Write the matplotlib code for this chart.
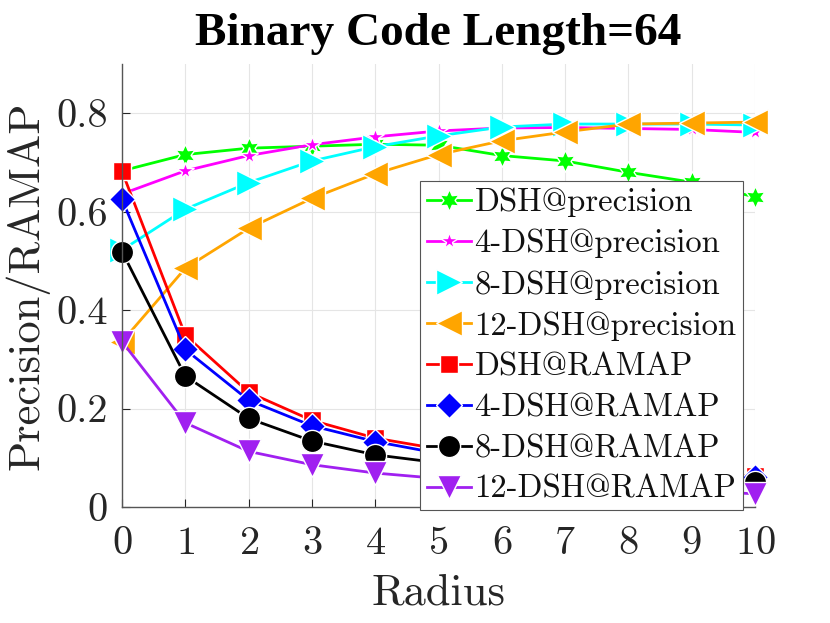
import matplotlib
matplotlib.use("Agg")
import matplotlib.pyplot as plt

radius = [0, 1, 2, 3, 4, 5, 6, 7, 8, 9, 10]
dsh_prec = [0.683, 0.716, 0.729, 0.733, 0.737, 0.735, 0.714, 0.703, 0.680, 0.660, 0.630]
dsh4_prec = [0.636, 0.683, 0.714, 0.736, 0.752, 0.764, 0.770, 0.771, 0.769, 0.767, 0.761]
dsh8_prec = [0.522, 0.605, 0.659, 0.703, 0.732, 0.754, 0.772, 0.778, 0.778, 0.778, 0.776]
dsh12_prec = [0.336, 0.485, 0.566, 0.627, 0.677, 0.716, 0.744, 0.762, 0.778, 0.780, 0.782]
dsh_ramap = [0.682, 0.349, 0.233, 0.176, 0.140, 0.118, 0.101, 0.089, 0.079, 0.069, 0.062]
dsh4_ramap = [0.625, 0.320, 0.217, 0.165, 0.133, 0.109, 0.094, 0.083, 0.074, 0.066, 0.060]
dsh8_ramap = [0.519, 0.266, 0.180, 0.134, 0.106, 0.090, 0.078, 0.069, 0.062, 0.056, 0.050]
dsh12_ramap = [0.336, 0.171, 0.113, 0.086, 0.069, 0.058, 0.049, 0.042, 0.037, 0.032, 0.027]

labels = ["DSH@precision", "4-DSH@precision", "8-DSH@precision", "12-DSH@precision",
          "DSH@RAMAP", "4-DSH@RAMAP", "8-DSH@RAMAP", "12-DSH@RAMAP"]
series = [dsh_prec, dsh4_prec, dsh8_prec, dsh12_prec,
          dsh_ramap, dsh4_ramap, dsh8_ramap, dsh12_ramap]
colors = ["#00ff00", "#ff00ff", "#00ffff", "#ffa500",
          "#ff0000", "#0000ff", "#000000", "#a020f0"]
markers = [(6, 1, 0), "*", ">", "<", "s", "D", "o", "v"]
msizes = [16, 13, 19, 19, 13, 13, 16, 17]

plt.rcParams['font.family'] = ['cmr10', 'DejaVu Sans']
plt.rcParams['axes.formatter.use_mathtext'] = True

fig = plt.figure(figsize=(8.3, 6.23), dpi=100)
ax = fig.add_axes([122/830, 1-507/623, (755-122)/830, (507-64)/623])

for y, lab, c, m, ms in zip(series, labels, colors, markers, msizes):
    ax.plot(radius, y, color=c, marker=m, markersize=ms, lw=2.0, label=lab,
            markeredgecolor='white', markeredgewidth=1.0, markerfacecolor=c,
            clip_on=False)

ax.set_xlim(0, 10)
ax.set_ylim(0, 0.9)
ax.set_xticks(range(0, 11))
ax.set_yticks([0, 0.2, 0.4, 0.6, 0.8])
ax.set_yticklabels(["0", "0.2", "0.4", "0.6", "0.8"])
ax.grid(True, color='#e5e5e5', lw=0.8)
ax.set_axisbelow(True)
for s in ['top', 'right']:
    ax.spines[s].set_visible(False)
for s in ['left', 'bottom']:
    ax.spines[s].set_color('#555555')
    ax.spines[s].set_linewidth(1.0)
ax.tick_params(direction='in', length=6, width=0.8, colors='#262626',
               labelsize=29, pad=10)
ax.tick_params(axis='x', pad=14)
ax.set_xlabel("Radius", fontsize=32, color='#262626', labelpad=8)
ax.set_ylabel("Precision/RAMAP", fontsize=32, color='#262626', labelpad=5)
ax.set_title("Binary Code Length=64", fontsize=34, fontweight='bold',
             family='Liberation Serif', pad=14)

leg = ax.legend(loc='upper left', bbox_to_anchor=(420/830, 1-181/623),
                bbox_transform=fig.transFigure, fontsize=23.5, frameon=True,
                fancybox=False, edgecolor='#555555', framealpha=1,
                handlelength=1.35, handletextpad=0.12, labelspacing=0.36,
                borderpad=0.2, borderaxespad=0)
leg.get_frame().set_linewidth(0.8)
leg.set_zorder(5)
for t in leg.get_texts():
    t.set_color('#111111')

fig.savefig("out.png", dpi=100)
